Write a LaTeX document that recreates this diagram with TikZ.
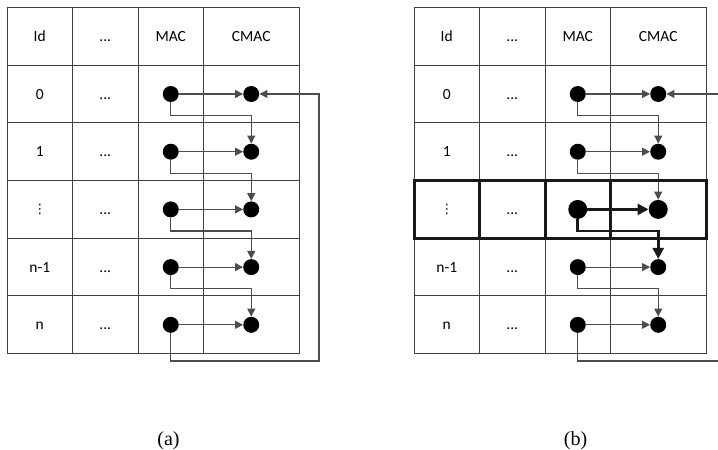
\documentclass[tikz,border=0pt]{standalone}
\usepackage{fontspec}
\setmainfont{Liberation Serif}
\newfontfamily\cellfont{Carlito}
\newfontfamily\symfont{DejaVu Sans}
\usetikzlibrary{arrows.meta}
\definecolor{gridc}{HTML}{404040}
\definecolor{linkc}{HTML}{4D4D4D}
\newcommand\smallvdots{{\symfont\fontsize{13}{13}\selectfont ⋮}}

\begin{document}
\begin{tikzpicture}[x=1pt,y=-1pt,
  grid/.style={draw=gridc, line width=1pt},
  heavygrid/.style={draw=black!90, line width=3pt},
  lbl/.style={font=\cellfont\fontsize{15.5}{18}\selectfont, inner sep=0pt,
              text height=10pt, text depth=0pt},
  dot/.style={circle, fill=black, inner sep=0pt, minimum size=16pt},
  bigdot/.style={dot, minimum size=19pt},
  link/.style={draw=linkc, line width=1.2pt, -{Triangle[length=8pt,width=8pt]}},
  plainlink/.style={draw=linkc, line width=1.2pt},
  boldlink/.style={draw=black!90, line width=2.6pt, -{Triangle[length=11pt,width=11pt]}},
  caption/.style={font=\fontsize{20}{24}\selectfont, inner sep=0pt}
]
\useasboundingbox (0,0) rectangle (718,450);

% ---- both tables: grid, headers and row labels ----
\foreach \t/\x in {a/7, b/414} {
  % horizontal rules
  \foreach \y in {7, 65, 122.7, 180.4, 238.1, 295.8, 353.5}
    \draw[grid] (\x,\y) -- (\x+292,\y);
  % vertical rules
  \foreach \c in {0, 65.5, 131, 196.5, 292}
    \draw[grid] (\x+\c,7) -- (\x+\c,353.5);
  % header row
  \node[lbl] (\t-hid)   at (\x+32.75, 36) {Id};
  \node[lbl] (\t-hdots) at (\x+98.25, 36) {...};
  \node[lbl] (\t-hmac)  at (\x+163.75,36) {MAC};
  \node[lbl] (\t-hcmac) at (\x+244.25,36) {CMAC};
  % row labels
  \foreach \r/\lab in {0/0, 1/1, 3/n-1, 4/n}
    \node[lbl] (\t-id\r) at (\x+32.75, 94+57.7*\r) {\lab};
  \node[inner sep=0pt] (\t-id2) at (\x+32.75, 209.4) {\smallvdots};
  \foreach \r in {0,...,4}
    \node[lbl] (\t-dt\r) at (\x+98.25, 94+57.7*\r) {...};
}

% ---- table (a): dots and links ----
\foreach \r in {0,...,4} {
  \node[dot] (a-m\r) at (170.75, 94+57.7*\r) {};
  \node[dot] (a-c\r) at (251.25, 94+57.7*\r) {};
  \draw[link] (a-m\r) -- (a-c\r);
}
\foreach \r in {0,...,3} {
  \pgfmathtruncatemacro\rn{\r+1}
  \draw[link] (a-m\r) -- ++(0,21.5) -| (a-c\rn);
}
\coordinate (a-loop) at (319,361);
\draw[link] (a-m4) |- (a-loop) |- (a-c0);

% ---- table (b): dots and links ----
\foreach \r in {0,1,3,4} {
  \node[dot] (b-m\r) at (577.75, 94+57.7*\r) {};
  \node[dot] (b-c\r) at (658.25, 94+57.7*\r) {};
  \draw[link] (b-m\r) -- (b-c\r);
}
\node[bigdot] (b-m2) at (577.75, 209.4) {};
\node[bigdot] (b-c2) at (658.25, 209.4) {};
\foreach \r/\rn in {0/1, 1/2, 3/4}
  \draw[link] (b-m\r) -- ++(0,21.5) -| (b-c\rn);

% highlighted row
\draw[heavygrid] (414,180.4) rectangle (706,238.1);
\foreach \c in {479.5, 545, 610.5}
  \draw[heavygrid] (\c,180.4) -- (\c,238.1);
\draw[boldlink] (b-m2) -- (b-c2);
\draw[boldlink] (b-m2) -- ++(0,21.5) -| (b-c3);

% wrap-around link leaving and re-entering at the right edge
\coordinate (b-out) at (718,361);
\coordinate (b-in)  at (718,94);
\draw[plainlink] (b-m4) |- (b-out);
\draw[link] (b-in) -- (b-c0);

% captions
\node[caption] (cap-a) at (168.5,441) {(a)};
\node[caption] (cap-b) at (575.5,441) {(b)};
\end{tikzpicture}
\end{document}
